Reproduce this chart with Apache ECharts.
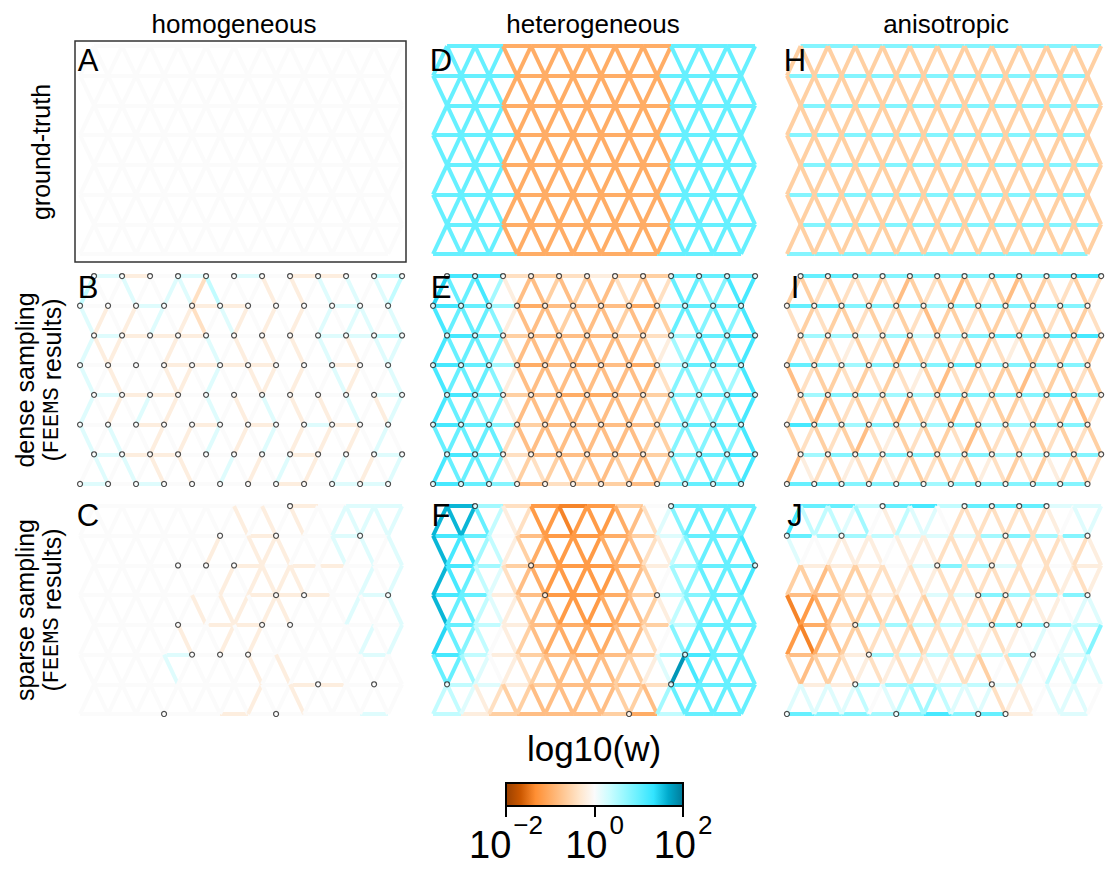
<!DOCTYPE html>
<html>
<head>
<meta charset="utf-8">
<script src="https://cdn.jsdelivr.net/npm/echarts@6/dist/echarts.min.js"></script>
<style>
  html, body { margin: 0; background: #fff; }
  #main { width: 1105px; height: 873px; }
</style>
</head>
<body>
<div id="main"></div>
<script>
// edge weights, one letter per edge: A = -2.0 ... K = 0 ... U = +2.0 (log10 w, step 0.2)
// *H: 8 rows of horizontal edges (11 each), *D: 7 bands of diagonal edges (23 each, left to right)
var levels = 'ABCDEFGHIJKLMNOPQRSTU'

var homTruthH = ['KKKKKKKKKKK', 'KKKKKKKKKKK', 'KKKKKKKKKKK', 'KKKKKKKKKKK', 'KKKKKKKKKKK', 'KKKKKKKKKKK', 'KKKKKKKKKKK', 'KKKKKKKKKKK']
var homTruthD = ['KKKKKKKKKKKKKKKKKKKKKKK', 'KKKKKKKKKKKKKKKKKKKKKKK', 'KKKKKKKKKKKKKKKKKKKKKKK', 'KKKKKKKKKKKKKKKKKKKKKKK', 'KKKKKKKKKKKKKKKKKKKKKKK', 'KKKKKKKKKKKKKKKKKKKKKKK', 'KKKKKKKKKKKKKKKKKKKKKKK']

var homDenseH = ['LJKLKLKJJKM', 'KKLKJJKKKLK', 'LJJJKKKKLLM', 'KKKJJJJKKJK', 'LJJKKKKKKKL', 'KKJKJKJKLJK', 'LJJKKKKJKKL', 'LKLKKKKJKLL']
var homDenseD = ['MKKLKKLLIMKKKJKJKLKLKLM', 'LJKJKLKJIKLJKJKJKLKLLKL', 'LJJKKKJKKLKJKJKJKLKJKLL', 'LKJKKKJJKLKKJJKJKKLJKKL', 'LKJKLKJKKLKJKLKJKJKLKJL', 'LKLKKJKJKLKJKLKJKJKJKLK', 'KLKLKJKJKKLKJKLKJKLKJKL']

var homSparseH = ['KKKKKKKJKLL', 'KKKKKKJKKLK', 'KKKKKJKJJKK', 'KKKKKKJJJKL', 'KKKKJJKKKKK', 'KKKLKKKKKKL', 'KKKKKKKJJKK', 'KKKKKJKKKKL']
var homSparseD = ['KKKKKKKKKKKJKJKJKKLLLLL', 'KKKKKKKKKJKKJJJKKKLKLKL', 'KKKKKKKKKKJKJJJJKKKKLKL', 'KKKKKKKKJKJJKJJKKKKLKKL', 'KKKKKKKJKKJKJKKKKKKKLKL', 'KKKKKKLKKKKKJKJKKKKKKKK', 'KKKKKKKKKKKKJKKJKKKKKKK']

var hetTruthH = ['PPFFFFFFPPP', 'PPPFFFFFPPP', 'PPFFFFFFPPP', 'PPPFFFFFPPP', 'PPFFFFFFPPP', 'PPPFFFFFPPP', 'PPFFFFFFPPP', 'PPPFFFFFPPP']
var hetTruthD = ['PPPPPFFFFFFFFFFFFPPPPPP', 'PPPPPFFFFFFFFFFFFPPPPPP', 'PPPPPFFFFFFFFFFFFPPPPPP', 'PPPPPFFFFFFFFFFFFPPPPPP', 'PPPPPFFFFFFFFFFFFPPPPPP', 'PPPPPFFFFFFFFFFFFPPPPPP', 'PPPPPFFFFFFFFFFFFPPPPPP']

var hetDenseH = ['QQIHIJHHPPP', 'QPNFGGGFOPP', 'QPHGGGHINPQ', 'QPNFGFGFNPP', 'QPHGFFGHOPQ', 'QPOHGGGGOPP', 'QPIGGGGHOPQ', 'QPOGIHHGOPP']
var hetDenseD = ['RPPQNJGGHGHGGIHGIPPOOQQ', 'QPPPOJGGGHGGGHGGHPPOPOQ', 'QPPPOIGGGGGGGGGHJNOPOPQ', 'QPPPOJGGGGGGGGGGIOONONQ', 'QPPOOJGGGGGGGGGHHOONOPQ', 'PPPPPIGGGGGGGGGHHOOOPOQ', 'QPPPOJHIHGHGGHGGHOOPOPQ']

var hetSparseH = ['SNIEDEHKPPP', 'QPKGEEFHLPP', 'QNHFEEFJNPP', 'QPJGEEFHMOP', 'PMJGFEFHMPP', 'QMJHGFGHNQP', 'MLJHGGGIPPP', 'MJHGGGHFMPP']
var hetSparseD = ['SSSPMJIEEDEEEFGILOPPPPP', 'SQQNMJHFEEEEFFGIJMOPPPQ', 'SQPMLIGFEEEEEFGHKNOPPPQ', 'SPPMLJHGFEEEFFGHJMOPPPP', 'RPOMKJHGFFFFFGGIKOPPPPP', 'PPNLKJIHGGGGGHHJLTQPPPP', 'MMLJIHHGGGGGGHHGNPPPPPP']

var aniTruthH = ['OOOOOOOOOOO', 'OOOOOOOOOOO', 'OOOOOOOOOOO', 'OOOOOOOOOOO', 'OOOOOOOOOOO', 'OOOOOOOOOOO', 'OOOOOOOOOOO', 'OOOOOOOOOOO']
var aniTruthD = ['HHHHHHHHHHHHHHHHHHHHHHH', 'HHHHHHHHHHHHHHHHHHHHHHH', 'HHHHHHHHHHHHHHHHHHHHHHH', 'HHHHHHHHHHHHHHHHHHHHHHH', 'HHHHHHHHHHHHHHHHHHHHHHH', 'HHHHHHHHHHHHHHHHHHHHHHH', 'HHHHHHHHHHHHHHHHHHHHHHH']

var aniDenseH = ['PPOOOOOPOPQ', 'PPOOONOOOOO', 'NNMNMNOPOPQ', 'PONOOOPOOOO', 'NOONNOOOOPO', 'QONONNONNOO', 'NOOOONONNOO', 'PPOOONOOOOO']
var aniDenseD = ['HHIHIIHIGHIHGHIHGHHIIHI', 'IHIHHIHIHIGHHIHHIHHIHHI', 'HIHIJHIHGHIHIHHIJHHIHIH', 'GIHHIHIHIJHGIHIHHGIHHIH', 'IHGHIHIHGHIHGHIHHIHIHGI', 'HIHIHGIJHIHHIGHIHIHIHIH', 'GJIHJIHJIHIHIHJIHIHJIHI']

var aniSparseH = ['PPMPQMPPPLL', 'PNNMLLLNONO', 'JJJKLONLKKJ', 'GGIJKLLONNO', 'FINNMMNOONM', 'GHJNMMMMNKL', 'JJNNNMMLKKK', 'POONOQOPJKL']
var aniSparseD = ['QMMMLNKJMLLKIIIIIIIJKLL', 'LKKJJJJKJJJIIIIIIIIIJIJ', 'HHGHHHIIJIJIIIIIIIIIJIJ', 'DEFGHHHIHIHIIIIHIIJJKLL', 'EDFGHHIIIHIIIJJIJKLKLMO', 'HGHHIJIJIIJJIIHKILKMLML', 'LLLLLMKLMNNMLLLIJJKLLLK']

// sampled demes for the sparse runs, [row, index in row]
var homSparseNodes = [[0, 7], [1, 5], [1, 7], [1, 10], [2, 3], [2, 4], [2, 5], [3, 7], [3, 8], [3, 11], [4, 3], [4, 6], [4, 7], [5, 4], [5, 5], [5, 6], [6, 8], [6, 10], [7, 3], [7, 7]]
var hetSparseNodes = [[0, 1], [0, 8], [2, 3], [2, 11], [3, 4], [3, 8], [5, 9], [6, 0], [6, 8], [7, 7]]
var aniSparseNodes = [[0, 3], [0, 6], [0, 7], [0, 8], [0, 9], [1, 0], [1, 2], [1, 8], [1, 11], [2, 5], [2, 7], [3, 7], [3, 8], [3, 11], [4, 2], [4, 7], [4, 8], [4, 9], [5, 3], [5, 9], [6, 2], [6, 7], [7, 0], [7, 4], [7, 7], [7, 8]]

var colLabels = ['homogeneous', 'heterogeneous', 'anisotropic']
var cbarTicks = [-2, 0, 2]

// FEEMS edge colormap
var edgeColors = ['#994000', '#CC5800', '#FF8F33', '#FFAD66', '#FFCA99', '#FFE6CC', '#FBFBFB', '#CCFDFF', '#99F8FF', '#66F0FF', '#33E4FF', '#00AACC', '#007A99']

var FONT = 'Liberation Sans, Arial, sans-serif'
var MONO = 'Liberation Mono, DejaVu Sans Mono, monospace'
var NROWS = 8
var NCOLS = 12

var panels = [
  { letter: 'A', row: 0, col: 0, h: homTruthH, d: homTruthD, nodes: [] },
  { letter: 'B', row: 1, col: 0, h: homDenseH, d: homDenseD, nodes: 'all' },
  { letter: 'C', row: 2, col: 0, h: homSparseH, d: homSparseD, nodes: homSparseNodes },
  { letter: 'D', row: 0, col: 1, h: hetTruthH, d: hetTruthD, nodes: [] },
  { letter: 'E', row: 1, col: 1, h: hetDenseH, d: hetDenseD, nodes: 'all' },
  { letter: 'F', row: 2, col: 1, h: hetSparseH, d: hetSparseD, nodes: hetSparseNodes },
  { letter: 'H', row: 0, col: 2, h: aniTruthH, d: aniTruthD, nodes: [] },
  { letter: 'I', row: 1, col: 2, h: aniDenseH, d: aniDenseD, nodes: 'all' },
  { letter: 'J', row: 2, col: 2, h: aniSparseH, d: aniSparseD, nodes: aniSparseNodes }
]

var colX = [75, 428, 782]
var rowY = [41, 271, 501]
var letterY = [60, 287, 515]

function toValue (ch) {
  return -2 + levels.indexOf(ch) * 0.2
}

function edgeColor (v) {
  var t = (Math.max(-2, Math.min(2, v)) + 2) / 4
  return echarts.color.lerp(t, edgeColors)
}

// even rows are shifted half a step to the right
function nodeXY (r, i) {
  return [r % 2 === 0 ? i + 0.5 : i, r]
}

function buildEdges (hRows, dBands) {
  var out = []
  function push (a, b, ch) {
    out.push({ coords: [a, b], lineStyle: { color: edgeColor(toValue(ch)) } })
  }
  hRows.forEach(function (s, r) {
    for (var i = 0; i < s.length; i++) push(nodeXY(r, i), nodeXY(r, i + 1), s[i])
  })
  dBands.forEach(function (s, r) {
    for (var k = 0; k < s.length; k++) {
      var h = k >> 1
      if (r % 2 === 0) {
        if (k % 2 === 0) push(nodeXY(r + 1, h), nodeXY(r, h), s[k])
        else push(nodeXY(r, h), nodeXY(r + 1, h + 1), s[k])
      } else {
        if (k % 2 === 0) push(nodeXY(r, h), nodeXY(r + 1, h), s[k])
        else push(nodeXY(r + 1, h), nodeXY(r, h + 1), s[k])
      }
    }
  })
  return out
}

function buildNodes (nodes) {
  var list = []
  if (nodes === 'all') {
    for (var r = 0; r < NROWS; r++) for (var i = 0; i < NCOLS; i++) list.push(nodeXY(r, i))
  } else {
    nodes.forEach(function (n) { list.push(nodeXY(n[0], n[1])) })
  }
  return list
}

var measureCtx = document.createElement('canvas').getContext('2d')
function textWidth (text, font) {
  measureCtx.font = font
  return measureCtx.measureText(text).width
}

var grids = []
var xAxes = []
var yAxes = []
var series = []
var graphics = []

panels.forEach(function (p, idx) {
  grids.push({
    left: colX[p.col], top: rowY[p.row], width: 331, height: 221,
    show: p.letter === 'A', borderColor: '#333', borderWidth: 1.5, backgroundColor: 'transparent'
  })
  xAxes.push({ gridIndex: idx, type: 'value', min: -0.18, max: 11.64, show: false })
  yAxes.push({ gridIndex: idx, type: 'value', min: -0.17, max: 7.27, inverse: true, show: false })
  series.push({
    type: 'lines',
    coordinateSystem: 'cartesian2d',
    xAxisIndex: idx,
    yAxisIndex: idx,
    polyline: false,
    silent: true,
    lineStyle: { width: 4, opacity: 1 },
    data: buildEdges(p.h, p.d),
    z: 2
  })
  series.push({
    type: 'scatter',
    xAxisIndex: idx,
    yAxisIndex: idx,
    symbol: 'circle',
    symbolSize: 5,
    silent: true,
    itemStyle: { color: '#fff', borderColor: '#222', borderWidth: 1.2 },
    data: buildNodes(p.nodes),
    z: 3
  })
  graphics.push({
    type: 'text', x: colX[p.col] + 13, y: letterY[p.row], z: 10,
    style: { text: p.letter, fontSize: 31, fontFamily: FONT, fill: '#000', align: 'center', verticalAlign: 'middle' }
  })
})

// colour bar
grids.push({ left: 506, top: 783, width: 177, height: 23 })
xAxes.push({
  gridIndex: 9, type: 'value', min: -2, max: 2, interval: 2,
  axisLine: { show: true, onZero: false, lineStyle: { color: '#000', width: 2 } },
  axisTick: { show: true, length: 11, lineStyle: { color: '#000', width: 2 } },
  splitLine: { show: false },
  axisLabel: {
    margin: 6,
    color: '#000',
    formatter: function (v) {
      if (cbarTicks.indexOf(v) < 0) return ''
      return '{b|10}{s|' + (v < 0 ? '\u2212' + (-v) : v) + '}'
    },
    rich: {
      b: { fontSize: 38, fontFamily: FONT, color: '#000', verticalAlign: 'bottom', lineHeight: 52 },
      s: { fontSize: 26, fontFamily: FONT, color: '#000', verticalAlign: 'top', lineHeight: 26, padding: [0, 0, 0, 2] }
    }
  }
})
yAxes.push({ gridIndex: 9, type: 'value', min: 0, max: 1, show: false })
series.push({
  type: 'custom',
  xAxisIndex: 9,
  yAxisIndex: 9,
  silent: true,
  data: [[0, 0]],
  renderItem: function (params, api) {
    var p0 = api.coord([-2, 1])
    var p1 = api.coord([2, 0])
    return {
      type: 'rect',
      shape: { x: p0[0], y: p0[1], width: p1[0] - p0[0], height: p1[1] - p0[1] },
      style: {
        fill: new echarts.graphic.LinearGradient(0, 0, 1, 0, edgeColors.map(function (c, i) {
          return { offset: i / (edgeColors.length - 1), color: c }
        })),
        stroke: '#000',
        lineWidth: 2
      }
    }
  }
})

// titles and row labels
var colCenters = [234, 593, 946]
colLabels.forEach(function (t, i) {
  graphics.push({
    type: 'text', x: colCenters[i], y: 24,
    style: { text: t, fontSize: 26, fontFamily: FONT, fill: '#000', align: 'center', verticalAlign: 'middle' }
  })
})
graphics.push({
  type: 'text', x: 41, y: 152, rotation: Math.PI / 2,
  style: { text: 'ground-truth', fontSize: 25, fontFamily: FONT, fill: '#000', align: 'center', verticalAlign: 'middle' }
})

// second label line: "(FEEMS results)" with FEEMS in a typewriter face, laid out bottom to top
var subParts = [['(', 25, FONT], ['FEEMS', 22, MONO], [' results)', 25, FONT]]
var rowTwo = [['dense sampling', 380], ['sparse sampling', 610]]
rowTwo.forEach(function (r) {
  graphics.push({
    type: 'text', x: 25, y: r[1], rotation: Math.PI / 2,
    style: { text: r[0], fontSize: 25, fontFamily: FONT, fill: '#000', align: 'center', verticalAlign: 'middle' }
  })
  var widths = subParts.map(function (s) { return textWidth(s[0], s[1] + 'px ' + s[2]) })
  var total = widths.reduce(function (a, b) { return a + b }, 0)
  var y = r[1] + total / 2
  subParts.forEach(function (s, i) {
    graphics.push({
      type: 'text', x: 52, y: y, rotation: Math.PI / 2,
      style: { text: s[0], fontSize: s[1], fontFamily: s[2], fill: '#000', align: 'left', verticalAlign: 'middle' }
    })
    y -= widths[i]
  })
})
graphics.push({
  type: 'text', x: 594, y: 748,
  style: { text: 'log10(w)', fontSize: 35, fontFamily: FONT, fill: '#000', align: 'center', verticalAlign: 'middle' }
})

var chart = echarts.init(document.getElementById('main'), null, { renderer: 'svg' })
chart.setOption({
  backgroundColor: '#fff',
  animation: false,
  grid: grids,
  xAxis: xAxes,
  yAxis: yAxes,
  series: series,
  graphic: graphics
})
</script>
</body>
</html>
